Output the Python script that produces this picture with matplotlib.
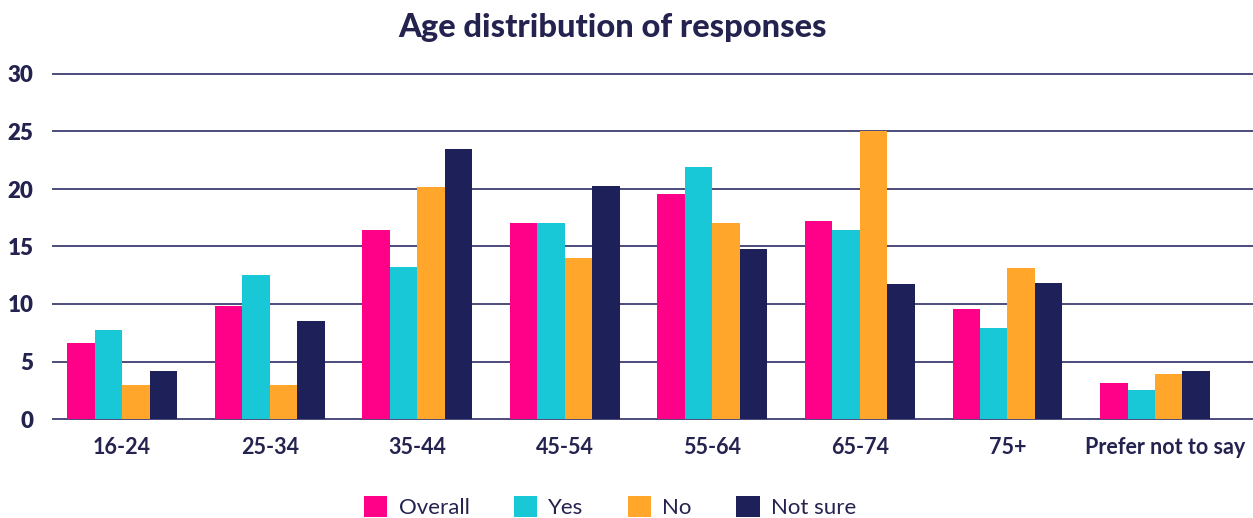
import numpy as np
import matplotlib.pyplot as plt
import matplotlib.transforms as mtransforms
from matplotlib.patches import Patch

plt.rcParams['font.family'] = ['Lato', 'DejaVu Sans']

# Share of responses (%) per age band
age_groups = ['16-24', '25-34', '35-44', '45-54', '55-64', '65-74', '75+', 'Prefer not to say']
overall = [6.6, 9.8, 16.4, 17.0, 19.6, 17.2, 9.6, 3.1]
yes = [7.7, 12.5, 13.2, 17.0, 21.9, 16.4, 7.9, 2.5]
no = [3.0, 3.0, 20.2, 14.0, 17.0, 25.0, 13.1, 3.9]
not_sure = [4.2, 8.5, 23.5, 20.3, 14.8, 11.7, 11.8, 4.2]

series = [('Overall', overall, '#FF0088'),
          ('Yes', yes, '#19C8D6'),
          ('No', no, '#FFA62B'),
          ('Not sure', not_sure, '#1D2059')]

text_color = '#24234F'
grid_color = '#4C4C7C'

fig = plt.figure(figsize=(12.53, 5.18), dpi=100)
ax = fig.add_axes([53 / 1253, 99 / 518, 1200 / 1253, 345 / 518])

x = np.arange(len(age_groups))
width = 0.186
for i, (name, vals, color) in enumerate(series):
    ax.bar(x + (i - 1.5) * width, vals, width, color=color, label=name, zorder=3)

for v in range(0, 31, 5):
    ax.axhline(v, color=grid_color, lw=1.4, zorder=1, clip_on=False)

ax.set_ylim(0, 30)
ax.set_xlim(-0.468, 7.664)
ax.set_yticks(range(0, 31, 5))
ax.set_xticks(x)
ax.set_xticklabels(age_groups)
for lbl in ax.get_yticklabels():
    lbl.set_fontweight('heavy')
    lbl.set_color(text_color)
for lbl in ax.get_xticklabels():
    lbl.set_fontweight('bold')
    lbl.set_color(text_color)
ax.tick_params(axis='y', length=0, labelsize=16, pad=14)
ax.tick_params(axis='x', length=0, labelsize=15.5, pad=13)
for s in ax.spines.values():
    s.set_visible(False)

# nudge the long last label so it sits flush with the right edge
last = ax.get_xticklabels()[-1]
last.set_transform(last.get_transform() + mtransforms.ScaledTranslation(0.1, 0, fig.dpi_scale_trans))

fig.text(613 / 1253, 1 - 28 / 518, 'Age distribution of responses', ha='center', va='center',
         fontsize=23.5, fontweight='black', color=text_color)

handles = [Patch(facecolor=c, label=n) for n, _, c in series]
leg = fig.legend(handles=handles, loc='center', bbox_to_anchor=(610 / 1253, 1 - 507 / 518),
                 ncol=4, frameon=False, fontsize=16, handlelength=1.05, handleheight=1.05,
                 handletextpad=0.5, columnspacing=2.0)
for t in leg.get_texts():
    t.set_color(text_color)

fig.savefig('out.png', dpi=100, facecolor='white')
